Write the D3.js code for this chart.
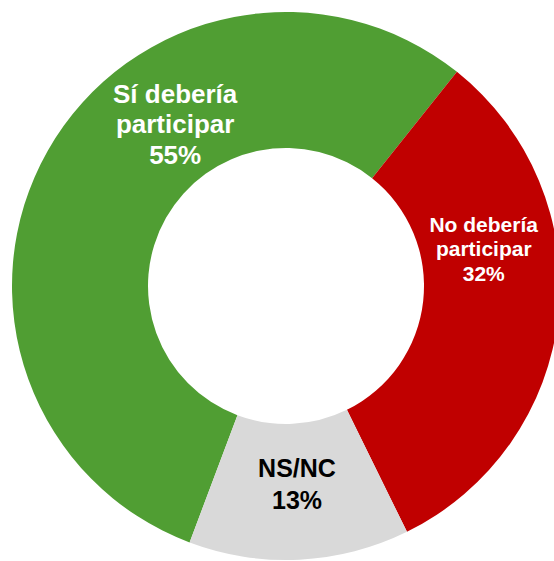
<!DOCTYPE html>
<html lang="es">
<head>
  <meta charset="UTF-8" />
  <title>Donut</title>
  <script src="https://d3js.org/d3.v7.min.js"></script>
  <style>
    body { margin: 0; background: #fff; }
    svg text { font-family: "Liberation Sans", Arial, Helvetica, sans-serif; font-weight: bold; }
  </style>
</head>
<body>
  <div id="chart"></div>
  <script>
    // data
    const categories = ["Sí debería participar", "No debería participar", "NS/NC"];
    const values = [55, 32, 13];
    const labelLines = [["Sí debería", "participar", "55%"], ["No debería", "participar", "32%"], ["NS/NC", "13%"]];
    const colors = ["#509e33", "#c00000", "#d9d9d9"];

    const width = 554, height = 561;
    const cx = 286, cy = 286, outerR = 274, innerR = 138;

    const svg = d3.select("#chart").append("svg").attr("width", width).attr("height", height);
    const g = svg.append("g").attr("transform", `translate(${cx},${cy})`);

    const start = 200.6 * Math.PI / 180;
    const pie = d3.pie().sort(null).startAngle(start).endAngle(start + 2 * Math.PI);
    const arcs = pie(values);
    const arc = d3.arc().innerRadius(innerR).outerRadius(outerR);

    g.selectAll("path")
      .data(arcs)
      .enter().append("path")
      .attr("d", arc)
      .attr("fill", (d, i) => colors[i]);

    // label placement: polar (deg from top, radius) of first baseline, font size, line step
    const labelCfg = [
      { a: -31.2, r: 214, size: 26, step: 30.5, fill: "#fff" },
      { a: 74.7, r: 205, size: 21, step: 24.5, fill: "#fff" },
      { a: 176.7, r: 191, size: 25, step: 32, fill: "#000" }
    ];

    arcs.forEach((d, i) => {
      const c = labelCfg[i];
      const rad = c.a * Math.PI / 180;
      const x = c.r * Math.sin(rad), y = -c.r * Math.cos(rad);
      const t = g.append("text")
        .attr("text-anchor", "middle")
        .attr("font-size", c.size + "px")
        .attr("fill", c.fill);
      labelLines[i].forEach((line, j) => {
        t.append("tspan").attr("x", x).attr("y", y + j * c.step).text(line);
      });
    });
  </script>
</body>
</html>
